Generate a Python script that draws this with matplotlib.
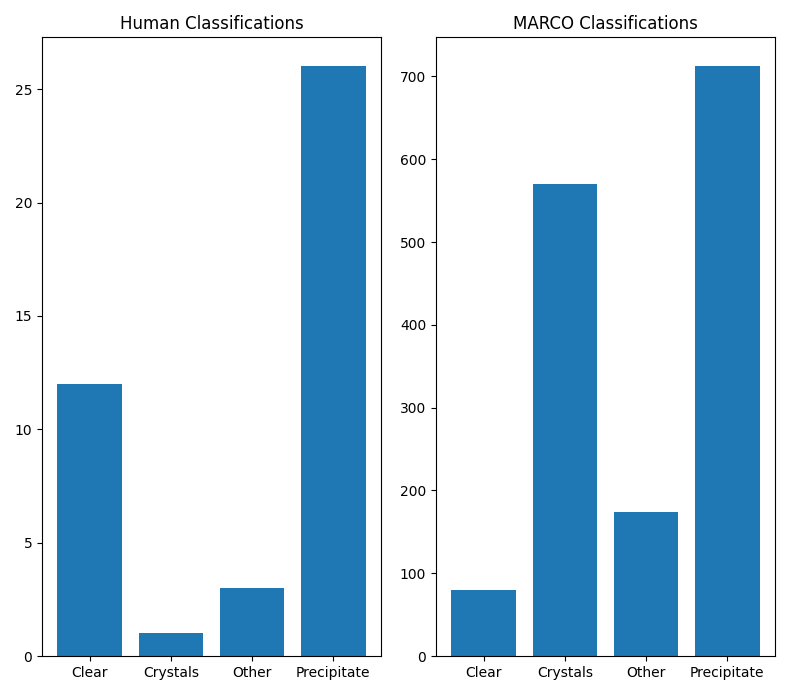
import matplotlib
matplotlib.use("Agg")
import matplotlib.pyplot as plt

categories = ["Clear", "Crystals", "Other", "Precipitate"]
human_counts = [12, 1, 3, 26]
marco_counts = [80, 570, 174, 712]

fig, (ax1, ax2) = plt.subplots(1, 2, figsize=(7.93, 6.95), dpi=100)
ax1.bar(categories, human_counts, color="#1f77b4")
ax1.set_title("Human Classifications")
ax2.bar(categories, marco_counts, color="#1f77b4")
ax2.set_title("MARCO Classifications")
fig.subplots_adjust(left=42/793, right=775/793, top=1-37/695, bottom=1-656/695, wspace=55/339)
fig.savefig("out.png", dpi=100)
